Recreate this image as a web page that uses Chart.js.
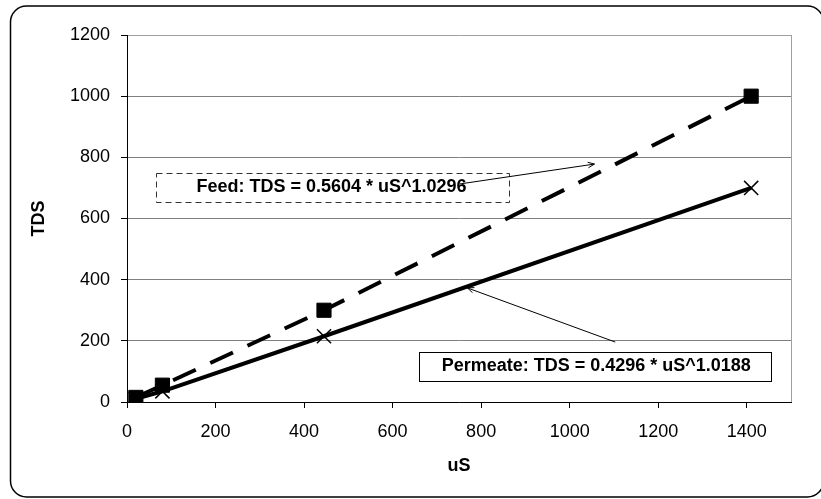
<!DOCTYPE html>
<html>
<head>
<meta charset="utf-8">
<script src="https://cdn.jsdelivr.net/npm/chart.js@4"></script>
<style>
  body { margin: 0; background: #fff; }
  #wrap { width: 821px; height: 499px; }
</style>
</head>
<body>
<div id="wrap"><canvas id="tdsChart" width="821" height="499"></canvas></div>
<script>
// values
const feedUS = [20, 80, 445, 1410];
const feedTDS = [15, 55, 300, 1000];
const permUS = [20, 80, 445, 1410];
const permTDS = [10, 35, 215, 700];
const xRange = [0, 1500, 200];
const yRange = [0, 1200, 200];
const xTitle = 'uS';
const yTitle = 'TDS';
const feedLabel = 'Feed: TDS = 0.5604 * uS^1.0296';
const permLabel = 'Permeate: TDS = 0.4296 * uS^1.0188';

// callouts, placed in data units
const notes = [
  { text: feedLabel, box: [65, 749, 862, 654], at: [462, 703], from: [752, 713], to: [1056, 778], dash: [6, 4], color: '#333' },
  { text: permLabel, box: [659, 164, 1455, 69], at: [1060, 118], from: [1103, 196], to: [769, 373], dash: [], color: '#000' }
];

const FONT = '"Liberation Sans", Arial, sans-serif';

function pts(xs, ys) {
  return xs.map(function (x, i) { return { x: x, y: ys[i] }; });
}

const extras = {
  id: 'extras',
  beforeDraw(chart) {
    const c = chart.ctx;
    c.save();
    c.fillStyle = '#fff';
    c.fillRect(0, 0, chart.width, chart.height);
    c.restore();
  },
  beforeDatasetsDraw(chart) {
    const c = chart.ctx, a = chart.chartArea;
    c.save();
    c.strokeStyle = '#a0a0a0';
    c.lineWidth = 1;
    c.beginPath();
    c.moveTo(Math.round(a.right) + 0.5, a.top);
    c.lineTo(Math.round(a.right) + 0.5, a.bottom);
    c.stroke();
    c.restore();
  },
  afterDatasetsDraw(chart) {
    const c = chart.ctx, sx = chart.scales.x, sy = chart.scales.y;
    c.save();
    notes.forEach(function (n) {
      const x1 = Math.round(sx.getPixelForValue(n.box[0])) + 0.5;
      const y1 = Math.round(sy.getPixelForValue(n.box[1])) + 0.5;
      const x2 = Math.round(sx.getPixelForValue(n.box[2])) + 0.5;
      const y2 = Math.round(sy.getPixelForValue(n.box[3])) + 0.5;
      c.fillStyle = '#fff';
      c.fillRect(x1, y1, x2 - x1, y2 - y1);
      c.setLineDash(n.dash);
      c.strokeStyle = n.color;
      c.lineWidth = 1;
      c.strokeRect(x1, y1, x2 - x1, y2 - y1);
      c.setLineDash([]);

      c.fillStyle = '#000';
      c.font = 'bold 18px ' + FONT;
      c.textAlign = 'center';
      c.textBaseline = 'middle';
      c.fillText(n.text, sx.getPixelForValue(n.at[0]), sy.getPixelForValue(n.at[1]));

      // arrow
      const fx = sx.getPixelForValue(n.from[0]), fy = sy.getPixelForValue(n.from[1]);
      const tx = sx.getPixelForValue(n.to[0]), ty = sy.getPixelForValue(n.to[1]);
      const ang = Math.atan2(ty - fy, tx - fx);
      c.strokeStyle = '#000';
      c.lineWidth = 1;
      c.beginPath();
      c.moveTo(fx, fy);
      c.lineTo(tx, ty);
      c.moveTo(tx - 7 * Math.cos(ang - 0.4), ty - 7 * Math.sin(ang - 0.4));
      c.lineTo(tx, ty);
      c.lineTo(tx - 7 * Math.cos(ang + 0.4), ty - 7 * Math.sin(ang + 0.4));
      c.stroke();
    });

    // rounded outer frame
    c.strokeStyle = '#000';
    c.lineWidth = 1.5;
    c.beginPath();
    c.roundRect(10.5, 6, 813, 491, 16);
    c.stroke();
    c.restore();
  }
};

new Chart(document.getElementById('tdsChart').getContext('2d'), {
  type: 'line',
  data: {
    datasets: [
      {
        label: 'Feed',
        data: pts(feedUS, feedTDS),
        borderColor: '#000',
        borderWidth: 4,
        borderDash: [25, 16],
        pointStyle: 'rect',
        pointRadius: 10,
        pointBackgroundColor: '#000',
        pointBorderColor: '#000',
        pointBorderWidth: 1,
        tension: 0,
        order: 1
      },
      {
        label: 'Permeate',
        data: pts(permUS, permTDS),
        borderColor: '#000',
        borderWidth: 4,
        pointStyle: 'crossRot',
        pointRadius: 10,
        pointBorderColor: '#000',
        pointBorderWidth: 1.5,
        tension: 0,
        order: 2
      }
    ]
  },
  options: {
    responsive: false,
    animation: false,
    layout: { padding: { top: 35, right: 30, left: 0, bottom: 0 } },
    plugins: { legend: { display: false }, tooltip: { enabled: false } },
    scales: {
      x: {
        type: 'linear',
        min: xRange[0], max: xRange[1],
        ticks: {
          stepSize: xRange[2], includeBounds: false, color: '#000', padding: 13, maxRotation: 0,
          font: { family: FONT, size: 18 },
          callback: function (v) { return String(v); }
        },
        grid: { drawOnChartArea: false, tickLength: 6, tickColor: '#000' },
        border: { color: '#000', width: 1 },
        title: { display: true, text: xTitle, color: '#000', font: { family: FONT, size: 18, weight: 'bold' }, padding: { top: 0, bottom: 22 } },
        afterFit(s) { s.height = 97; }
      },
      y: {
        min: yRange[0], max: yRange[1],
        ticks: {
          stepSize: yRange[2], color: '#000', padding: 11,
          font: { family: FONT, size: 18 },
          callback: function (v) { return String(v); }
        },
        grid: {
          color: function (ctx) { return ctx.tick && ctx.tick.value === yRange[1] ? '#a0a0a0' : '#808080'; },
          tickLength: 6, tickColor: '#000'
        },
        border: { color: '#000', width: 1 },
        title: { display: true, text: yTitle, color: '#000', font: { family: FONT, size: 18, weight: 'bold' }, padding: { top: 28, bottom: 0 } },
        afterFit(s) { s.width = 127; }
      }
    }
  },
  plugins: [extras]
});
</script>
</body>
</html>
